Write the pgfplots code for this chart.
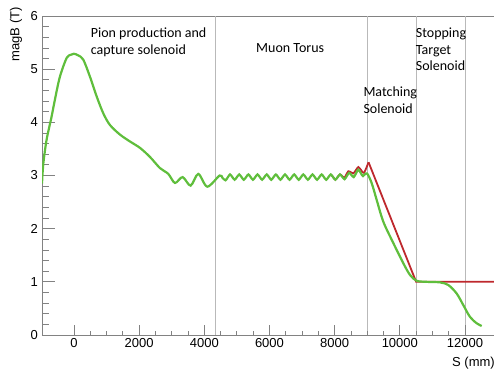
\documentclass[border=0pt]{standalone}
\usepackage{fontspec}
\setmainfont{Liberation Sans}
\newfontfamily\calfont{Carlito}
\usepackage{pgfplots}
\pgfplotsset{compat=1.18}
\definecolor{cgreen}{RGB}{95,190,60}
\definecolor{cred}{RGB}{190,40,45}
\definecolor{framec}{RGB}{130,130,130}
\definecolor{vlinec}{RGB}{185,185,185}
\begin{document}
\begin{tikzpicture}
\pgfplotsset{common/.style={scale only axis, width=452pt, height=319pt,
  xmin=-980, xmax=12890, ymin=0, ymax=6, at={(0,0)}, anchor=south west,
  axis line style={framec, line width=1pt},
  every tick/.style={framec, line width=0.8pt},
  tick align=inside, scaled x ticks=false, scaled y ticks=false,
  tick label style={font=\fontsize{13}{15}\selectfont},
  /pgf/number format/assume math mode=true,
  /pgf/number format/set thousands separator={}}}
\begin{axis}[common, ytick={0,...,6}, minor y tick num=4, ytick pos=left,
  major tick length=13pt, minor tick length=7pt, xtick=\empty,
  yticklabel style={inner sep=0pt, xshift=-4pt}]
\addplot[vlinec, line width=0.8pt] coordinates {(4330,0) (4330,6)};
\addplot[vlinec, line width=0.8pt] coordinates {(9000,0) (9000,6)};
\addplot[vlinec, line width=0.8pt] coordinates {(10500,0) (10500,6)};
\addplot[vlinec, line width=0.8pt] coordinates {(12000,0) (12000,6)};
\addplot[cred, line width=1.8pt, smooth] coordinates {
(7882,3.02) (7952,2.97) (8022,2.92) (8092,2.97) (8163,3.02) (8232,2.99) (8300,2.96) (8360,3.02) (8420,3.08) (8500,3.06) (8575,3.04) (8650,3.10) (8727,3.16) (8815,3.10) (8900,3.05) (9040,3.25)};
\addplot[cred, line width=1.8pt] coordinates {(9040,3.25) (10500,1.0) (12890,1.0)};
\addplot[cgreen, line width=2.2pt, smooth] coordinates {
(-980,2.85) (-940,3.22) (-840,3.67) (-685,4.11) (-583,4.43) (-430,4.86) (-225,5.21) (-100,5.27) (0,5.29) (130,5.26)
(286,5.18) (491,4.86) (696,4.49) (900,4.17) (1105,3.95) (1412,3.77) (1719,3.64) (2026,3.52)
(2332,3.35) (2639,3.14) (2895,3.03) (3100,2.86) (3335,2.97) (3580,2.81) (3816,3.03) (4092,2.79)
(4470,3.00) (4560,2.955) (4650,2.91) (4720,2.965)
(4791,3.02) (4861,2.97) (4931,2.92) (5001,2.97) (5072,3.02) (5142,2.97) (5212,2.92) (5282,2.97)
(5353,3.02) (5423,2.97) (5493,2.92) (5563,2.97) (5634,3.02) (5704,2.97) (5774,2.92) (5844,2.97)
(5915,3.02) (5985,2.97) (6055,2.92) (6125,2.97) (6196,3.02) (6266,2.97) (6336,2.92) (6406,2.97)
(6477,3.02) (6547,2.97) (6617,2.92) (6687,2.97) (6758,3.02) (6828,2.97) (6898,2.92) (6968,2.97)
(7039,3.02) (7109,2.97) (7179,2.92) (7249,2.97) (7320,3.02) (7390,2.97) (7460,2.92) (7530,2.97)
(7601,3.02) (7671,2.97) (7741,2.92) (7811,2.97) (7882,3.02) (7952,2.97) (8022,2.92) (8092,2.97)
(8163,3.02) (8234,2.975) (8304,2.93) (8374,2.99) (8444,3.05) (8515,3.01) (8585,2.97) (8655,3.04)
(8725,3.11) (8800,3.05) (8870,2.99) (8990,3.04)
(9135,2.86) (9290,2.54) (9494,2.13) (9800,1.73) (10107,1.35) (10312,1.13) (10517,1.02)
(10824,1.00) (11233,0.99) (11489,0.94) (11745,0.78) (11950,0.56) (12154,0.34) (12360,0.22) (12513,0.17)};
\end{axis}
\begin{axis}[common, hide y axis, axis line style={draw=none}, xtick pos=bottom,
  xtick={0,2000,...,12000}, minor x tick num=3,
  major tick length=10pt, minor tick length=4pt,
  xticklabel style={inner sep=0pt, yshift=-3pt}]
\addplot[draw=none] coordinates {(0,0)};
\end{axis}
\node[anchor=base west, inner sep=0pt, font=\fontsize{13}{15}\selectfont] at (410pt,-31pt) {S (mm)};
\node[rotate=90, anchor=east, inner sep=0pt, font=\fontsize{13}{15}\selectfont] at (-26pt,328pt) {magB (T)};
\begin{scope}[every node/.style={anchor=base west, inner sep=0pt, font=\calfont\fontsize{14}{16}\selectfont}]
\node at (48.7pt,297.3pt) {Pion production and};
\node at (48.7pt,280.8pt) {capture solenoid};
\node at (214pt,282.5pt) {Muon Torus};
\node at (321.3pt,238.3pt) {Matching};
\node at (321.3pt,221.7pt) {Solenoid};
\node at (373.7pt,297.3pt) {Stopping};
\node at (373.7pt,280.7pt) {Target};
\node at (373.7pt,264.3pt) {Solenoid};
\end{scope}
\pgfresetboundingbox
\path[use as bounding box] (-42pt,-33pt) rectangle (452pt,335pt);
\end{tikzpicture}
\end{document}
